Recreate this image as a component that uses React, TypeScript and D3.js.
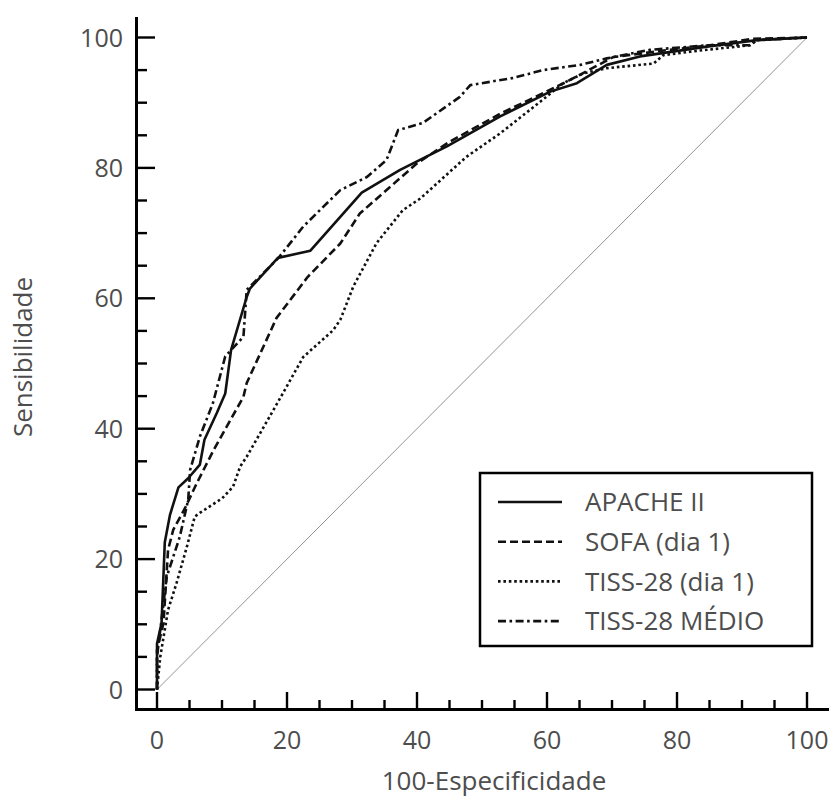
import React from "react";
import * as d3 from "d3";

type P = [number, number];

const apacheII: P[] = [
  [0, 0], [0, 7], [0.7, 10.2], [1.2, 22.6], [2, 26.8], [3.3, 31], [4.8, 32.4], [6.6, 34.5],
  [7.3, 38.3], [9.2, 42.4], [10.5, 45.4], [11.4, 52.1], [13.8, 60.2], [14.3, 61.5], [18.6, 66.2],
  [23.6, 67.3], [31.5, 76.2], [37.4, 79.7], [44.6, 83.3], [52.8, 87.9], [60.5, 91.7], [64.6, 93.0],
  [69.2, 95.8], [74.3, 97.1], [84.6, 98.6], [92.3, 99.6], [100, 100],
];

const sofaDia1: P[] = [
  [0, 0], [0, 6], [1, 10.2], [1.7, 21.4], [2.5, 24.5], [4.3, 27.8], [6.1, 31.6], [8.7, 36.7],
  [13.3, 44.9], [13.8, 47], [18.4, 57], [23.2, 63.3], [28.2, 68.4], [31.2, 73], [40, 80.7],
  [45, 84], [52.8, 88.3], [60.5, 92], [63, 93.2], [70.2, 97], [78, 98], [85, 98.8], [91.7, 99.8],
  [100, 100],
];

const tiss28Dia1: P[] = [
  [0, 0], [0.5, 5], [1.7, 12.2], [3, 16.3], [4.6, 21.9], [5.8, 26.5], [6.6, 27.1], [10, 29.3],
  [11.7, 31.1], [12.8, 34.2], [13.8, 35.7], [18.9, 44.6], [22.5, 51], [27.1, 55.1], [28.2, 56.7],
  [30.2, 61.8], [33.8, 68.5], [37.8, 73.5], [40.5, 75.3], [47.6, 81.7], [52.8, 85.3], [58.9, 90.1],
  [62.5, 93], [65.6, 94.5], [69.2, 95.3], [76.4, 96.0], [77.9, 97.3], [83.5, 98], [91.2, 98.8],
  [92.3, 99.6], [100, 100],
];

const tiss28Medio: P[] = [
  [0, 0], [0, 5], [1.5, 17.3], [3.5, 23.4], [4.8, 29.1], [5.1, 33.7], [6.6, 38.8], [8.6, 43.9],
  [10.5, 51.1], [13.3, 54.1], [13.8, 61.3], [18.7, 66.2], [22.5, 71], [28.2, 76.6], [32.3, 78.6],
  [35.3, 81.2], [37.1, 85.8], [40.9, 86.9], [46.6, 90.9], [48.2, 92.7], [54.8, 93.8], [59.4, 95.0],
  [65.1, 95.8], [69.2, 96.8], [75.8, 98.1], [84.6, 98.8], [91.2, 98.8], [92.3, 99.6], [100, 100],
];

const reference: P[] = [[0, 0], [100, 100]];

const seriesNames = ["APACHE II", "SOFA (dia 1)", "TISS-28 (dia 1)", "TISS-28 MÉDIO"];
const seriesData = [apacheII, sofaDia1, tiss28Dia1, tiss28Medio];
const seriesDash = ["none", "8,4", "2.6,2.8", "8,3.5,2.6,3.5"];

const tickValues = d3.range(0, 101, 5);
const majorTickLabels = ["0", "20", "40", "60", "80", "100"];
const xTitle = "100-Especificidade";
const yTitle = "Sensibilidade";

const FONT = "'Open Sans', sans-serif";
const TEXT = "#4d4d4d";

export default function App() {
  const x = d3.scaleLinear().domain([0, 100]).range([157, 807]);
  const y = d3.scaleLinear().domain([0, 100]).range([689.5, 37.5]);
  const line = d3
    .line<P>()
    .x((d) => x(d[0]))
    .y((d) => y(d[1]));

  const axisX = 136.5;
  const axisY = 709.5;

  return (
    <div style={{ position: "absolute", left: 0, top: 0 }}>
      <svg width={834} height={801} style={{ display: "block", background: "#fff" }}>
        <rect x={0} y={0} width={834} height={801} fill="#fff" />
        {/* diagonal reference */}
        <path d={line(reference) || ""} fill="none" stroke="#777" strokeWidth={0.8} />

        {/* curves */}
        {seriesData.map((s, i) => (
          <path
            key={i}
            d={line(s) || ""}
            fill="none"
            stroke="#111"
            strokeWidth={2.6}
            strokeDasharray={seriesDash[i]}
            strokeLinejoin="round"
          />
        ))}

        {/* axes */}
        <line x1={axisX} x2={axisX} y1={17} y2={axisY + 1.5} stroke="#000" strokeWidth={3} />
        <line x1={axisX - 1.5} x2={829} y1={axisY} y2={axisY} stroke="#000" strokeWidth={3} />
        {tickValues.map((v) => {
          const major = v % 20 === 0;
          return (
            <g key={"t" + v}>
              <line
                x1={axisX}
                x2={major ? 155 : 147}
                y1={y(v)}
                y2={y(v)}
                stroke="#000"
                strokeWidth={2.4}
              />
              <line
                x1={x(v)}
                x2={x(v)}
                y1={axisY}
                y2={major ? 692 : 700}
                stroke="#000"
                strokeWidth={2.4}
              />
            </g>
          );
        })}
        {majorTickLabels.map((lab) => {
          const v = +lab;
          return (
            <g key={"l" + lab} fontFamily={FONT} fontSize={25} fill={TEXT}>
              <text x={123} y={y(v)} dy="0.36em" textAnchor="end">
                {lab}
              </text>
              <text x={x(v)} y={749} textAnchor="middle">
                {lab}
              </text>
            </g>
          );
        })}
        <text
          x={494}
          y={790}
          textAnchor="middle"
          fontFamily={FONT}
          fontSize={26}
          fill={TEXT}
        >
          {xTitle}
        </text>
        <text
          transform="translate(32,357) rotate(-90)"
          textAnchor="middle"
          fontFamily={FONT}
          fontSize={26}
          fill={TEXT}
        >
          {yTitle}
        </text>

        {/* legend */}
        <rect x={480} y={473} width={332} height={173} fill="#fff" stroke="#000" strokeWidth={2.5} />
        {seriesNames.map((name, i) => {
          const ry = 502 + i * 39.7;
          return (
            <g key={name}>
              <line
                x1={498}
                x2={562}
                y1={ry}
                y2={ry}
                stroke="#111"
                strokeWidth={2.6}
                strokeDasharray={seriesDash[i]}
              />
              <text x={585} y={ry} dy="0.36em" fontFamily={FONT} fontSize={26} fill={TEXT}>
                {name}
              </text>
            </g>
          );
        })}
      </svg>
    </div>
  );
}
